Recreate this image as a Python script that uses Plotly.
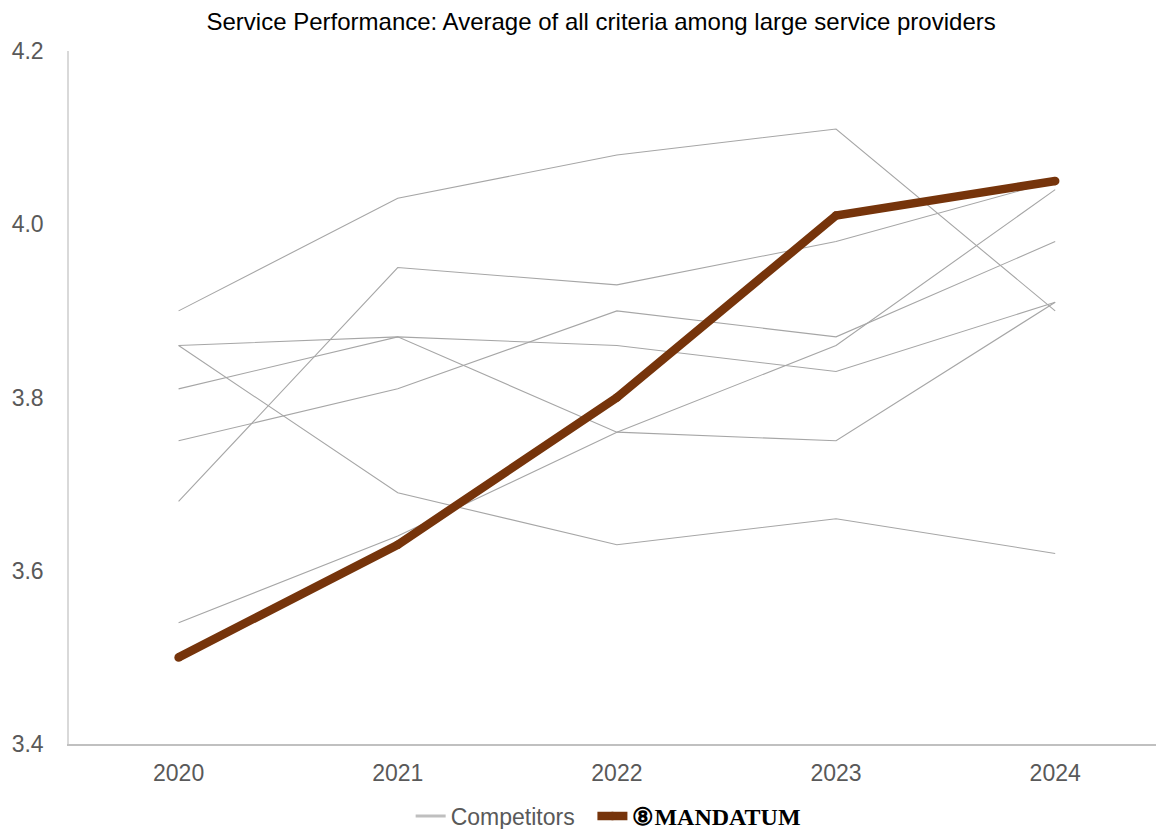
import plotly.graph_objects as go

years = ["2020", "2021", "2022", "2023", "2024"]

competitor_a = [3.90, 4.03, 4.08, 4.11, 3.90]
competitor_b = [3.68, 3.95, 3.93, 3.98, 4.05]
competitor_c = [3.81, 3.87, 3.76, 3.75, 3.91]
competitor_d = [3.86, 3.87, 3.86, 3.83, 3.91]
competitor_e = [3.86, 3.69, 3.63, 3.66, 3.62]
competitor_f = [3.75, 3.81, 3.90, 3.87, 3.98]
competitor_g = [3.54, 3.64, 3.76, 3.86, 4.04]
competitors = [competitor_a, competitor_b, competitor_c, competitor_d,
               competitor_e, competitor_f, competitor_g]

mandatum = [3.50, 3.63, 3.80, 4.01, 4.05]

GRAY = "#a6a6a6"
BROWN = "#76340b"
FONT = "Liberation Sans, Arial, sans-serif"
MANDATUM_NAME = ('<span style="font-family:\'Liberation Serif\', \'DejaVu Serif\', serif;'
                 'color:#000000;font-size:24px"><b>⑧MANDATUM</b></span>')

fig = go.Figure()
for vals in competitors:
    fig.add_trace(go.Scatter(
        x=years, y=vals, mode="lines",
        line=dict(color=GRAY, width=1.1),
        showlegend=False, legendgroup="comp", hoverinfo="skip",
    ))
# legend entry for competitors
fig.add_trace(go.Scatter(
    x=[None], y=[None], mode="lines", name="Competitors  ",
    line=dict(color="#bfbfbf", width=3), legendgroup="comp",
))
fig.add_trace(go.Scatter(
    x=years, y=mandatum, mode="lines+markers",
    name=MANDATUM_NAME,
    line=dict(color=BROWN, width=8.5),
    marker=dict(color=BROWN, size=8.5, line=dict(width=0)),
))

fig.update_layout(
    width=1156, height=829,
    margin=dict(l=69, r=0, t=51, b=85),
    paper_bgcolor="white", plot_bgcolor="white",
    font=dict(family=FONT, size=23, color="#595959"),
    title=dict(
        text="Service Performance: Average of all criteria among large service providers",
        x=0.52, xanchor="center", y=1 - 22 / 829, yanchor="middle", yref="container",
        font=dict(family=FONT, size=24, color="#000000"),
    ),
    xaxis=dict(
        type="category", range=[-0.5, 4.46], showgrid=False, zeroline=False,
        showline=True, linecolor="#c0c0c0", linewidth=2,
        ticks="", tickfont=dict(size=23, color="#595959"),
        ticklabelstandoff=7,
    ),
    yaxis=dict(
        range=[3.4, 4.2], dtick=0.2, tickformat=".1f",
        showgrid=False, zeroline=False,
        showline=True, linecolor="#d9d9d9", linewidth=1.5,
        ticks="", tickfont=dict(size=23, color="#595959"),
        ticklabelstandoff=19,
    ),
    legend=dict(
        orientation="h", x=0.496, xanchor="center",
        y=1 - 816 / 829, yanchor="middle", yref="container",
        font=dict(size=23, color="#595959"),
        tracegroupgap=0,
    ),
    showlegend=True,
)

fig.write_html("out.html")
